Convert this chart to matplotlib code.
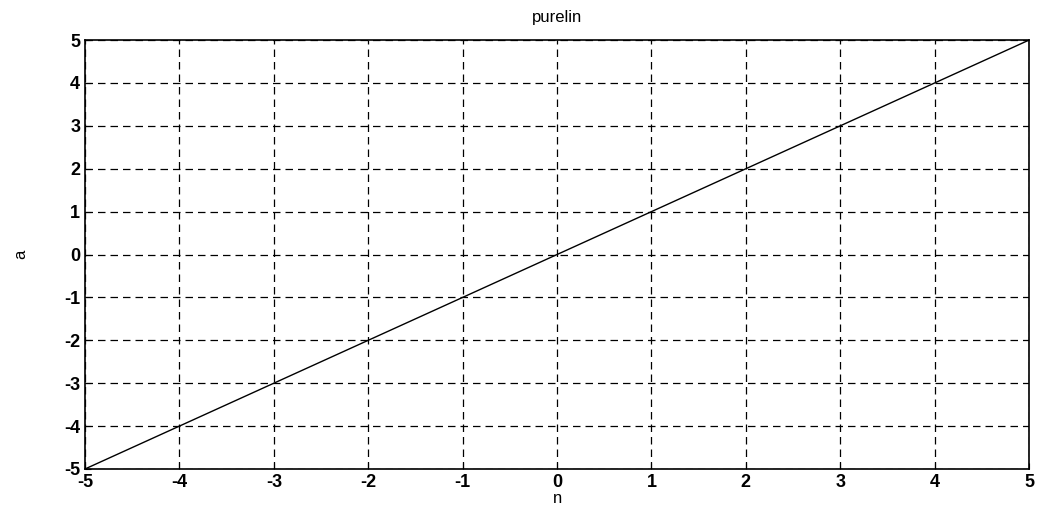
import matplotlib.pyplot as plt

# entrée n et sortie a = purelin(n)
n = [-5, -4, -3, -2, -1, 0, 1, 2, 3, 4, 5]
a = [-5, -4, -3, -2, -1, 0, 1, 2, 3, 4, 5]
ticks = [-5, -4, -3, -2, -1, 0, 1, 2, 3, 4, 5]

plt.rcParams['font.family'] = ['Liberation Sans', 'DejaVu Sans']
plt.rcParams['axes.unicode_minus'] = False

fig = plt.figure(figsize=(10.42, 5.07), dpi=100)
ax = fig.add_axes([0.0816, 0.075, 0.906, 0.846])

ax.plot(n, a, color='black', linewidth=1.0)
ax.set_xlim(-5, 5)
ax.set_ylim(-5, 5)
ax.set_xticks(ticks)
ax.set_yticks(ticks)
ax.tick_params(direction='in', labelsize=13, length=4)
for lab in ax.get_xticklabels() + ax.get_yticklabels():
    lab.set_fontweight('bold')
ax.grid(True, color='black', linestyle=(0, (6, 4)), linewidth=0.9)
for s in ax.spines.values():
    s.set_linewidth(1.2)

ax.set_title("purelin", fontsize=12, pad=13)
ax.set_xlabel("n", fontsize=12, labelpad=0)
ax.set_ylabel("a", fontsize=12, labelpad=26)

fig.savefig("out.png", dpi=100)
